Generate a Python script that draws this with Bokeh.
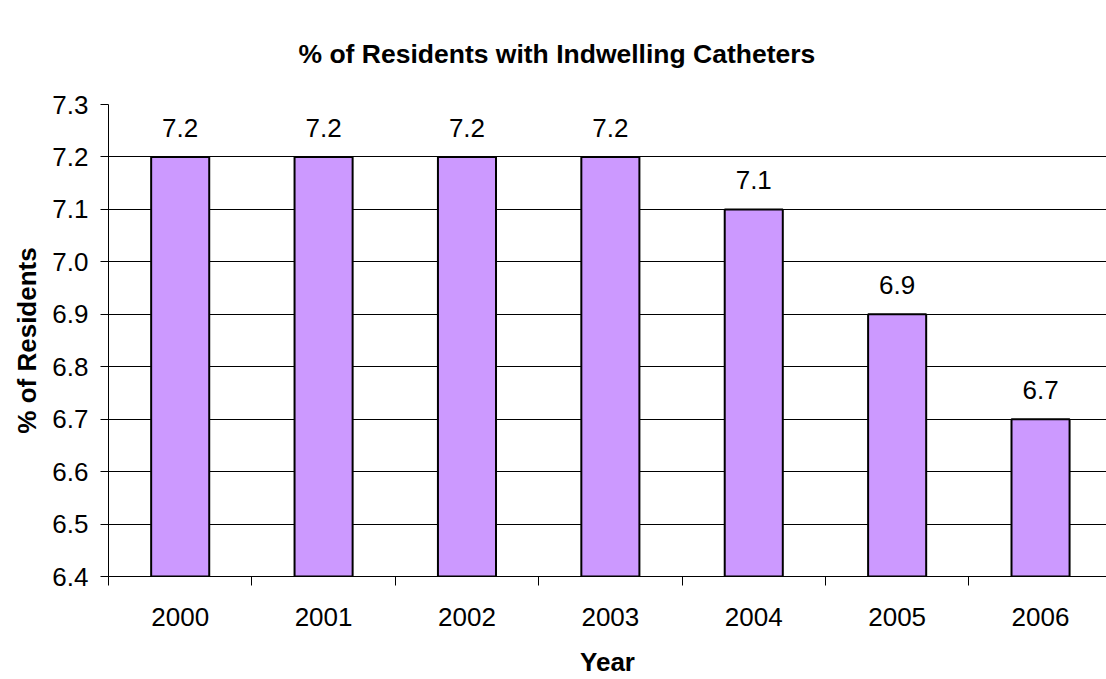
from bokeh.plotting import figure
from bokeh.models import Range1d, FixedTicker, ColumnDataSource, NumeralTickFormatter
from bokeh.core.properties import value
from bokeh.embed import file_html
from bokeh.resources import INLINE

years = ["2000", "2001", "2002", "2003", "2004", "2005", "2006"]
pct = [7.2, 7.2, 7.2, 7.2, 7.1, 6.9, 6.7]
y_ticks = [6.4, 6.5, 6.6, 6.7, 6.8, 6.9, 7.0, 7.1, 7.2, 7.3]
title = "% of Residents with Indwelling Catheters"
x_title = "Year"
y_title = "% of Residents"

FONT = "Liberation Sans"
xs = [i + 0.5 for i in range(len(years))]
src = ColumnDataSource(dict(x=xs, top=pct, lab=[f"{v:.1f}" for v in pct]))

p = figure(width=1106, height=679, output_backend="svg", toolbar_location=None,
           x_range=Range1d(0, 6.96), y_range=Range1d(y_ticks[0], y_ticks[-1]),
           min_border_left=108, min_border_right=0, min_border_top=103, min_border_bottom=99)

p.vbar(x="x", top="top", bottom=y_ticks[0], width=0.405, source=src,
       fill_color="#CC99FF", line_color="black", line_width=2)
p.text(x="x", y="top", text="lab", source=src, text_align="center", text_baseline="alphabetic",
       y_offset=-29, text_font=value(FONT), text_font_size="26px", text_color="black")

p.title.text = title
p.title.align = "left"
p.title.offset = 190
p.title.text_font = FONT
p.title.text_font_size = "26.5px"
p.title.text_font_style = "bold"
p.title.text_color = "black"
p.title.standoff = 72

p.outline_line_color = None
p.background_fill_color = "white"
p.xgrid.grid_line_color = None
p.ygrid.grid_line_color = "black"
p.ygrid.grid_line_width = 1

xa = p.xaxis[0]
xa.ticker = FixedTicker(ticks=xs, minor_ticks=list(range(len(years) + 1)))
xa.major_label_overrides = {x: y for x, y in zip(xs, years)}
xa.major_tick_in = 0
xa.major_tick_out = 0
xa.minor_tick_in = 0
xa.minor_tick_out = 9
xa.minor_tick_line_color = "black"
xa.axis_line_color = "black"
xa.major_label_standoff = 22
xa.major_label_text_font = FONT
xa.major_label_text_font_size = "26px"
xa.major_label_text_color = "black"
xa.axis_label = x_title
xa.axis_label_text_font = FONT
xa.axis_label_text_font_size = "26px"
xa.axis_label_text_font_style = "bold"
xa.axis_label_text_color = "black"
xa.axis_label_standoff = 18

ya = p.yaxis[0]
ya.ticker = FixedTicker(ticks=y_ticks)
ya.formatter = NumeralTickFormatter(format="0.0")
ya.major_tick_in = 0
ya.major_tick_out = 8
ya.minor_tick_line_color = None
ya.axis_line_color = "black"
ya.major_label_standoff = 12
ya.major_label_text_font = FONT
ya.major_label_text_font_size = "26px"
ya.major_label_text_color = "black"
ya.axis_label = y_title
ya.axis_label_text_font = FONT
ya.axis_label_text_font_size = "26px"
ya.axis_label_text_font_style = "bold"
ya.axis_label_text_color = "black"
ya.axis_label_standoff = 7

open("out.html", "w").write(file_html(p, INLINE))
